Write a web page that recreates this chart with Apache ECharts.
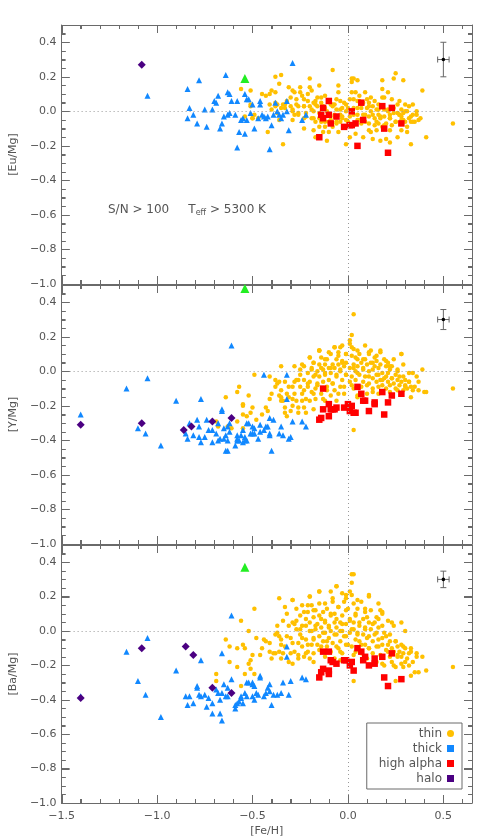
<!DOCTYPE html>
<html>
<head>
<meta charset="utf-8">
<script src="https://cdn.jsdelivr.net/npm/echarts@6.0.0/dist/echarts.min.js"></script>
<style>
  html, body { margin: 0; padding: 0; background: #fff; }
  #chart { width: 491px; height: 838px; }
</style>
</head>
<body>
<div id="chart"></div>
<script>
// ---- [Eu/Mg] panel ----
const thinEu = [[-0.51,0.12],[-0.51,0.04],[-0.50,-0.04],[-0.49,-0.02],[-0.47,-0.04],[-0.45,0.10],[-0.43,0.09],[-0.42,-0.12],[-0.41,0.10],[-0.41,0.04],[-0.40,0.12],[-0.40,0.01],[-0.38,0.11],[-0.38,0.20],[-0.38,0.03],[-0.37,-0.01],[-0.37,0.04],[-0.36,0.16],[-0.36,-0.05],[-0.35,0.21],[-0.34,-0.19],[-0.34,0.04],[-0.33,0.02],[-0.32,0.06],[-0.31,0.14],[-0.30,0.03],[-0.29,0.01],[-0.29,-0.05],[-0.29,0.12],[-0.28,0.11],[-0.28,-0.02],[-0.27,0.04],[-0.26,0.03],[-0.26,-0.01],[-0.25,0.14],[-0.25,0.11],[-0.24,0.09],[-0.23,0.03],[-0.23,0.07],[-0.22,-0.01],[-0.22,-0.03],[-0.21,0.10],[-0.20,0.14],[-0.20,0.03],[-0.20,0.19],[-0.19,0.12],[-0.19,-0.04],[-0.18,0.05],[-0.18,-0.11],[-0.18,0.00],[-0.17,0.06],[-0.17,-0.06],[-0.16,0.08],[-0.16,0.03],[-0.15,-0.04],[-0.15,-0.09],[-0.14,0.05],[-0.14,-0.03],[-0.14,0.08],[-0.13,-0.12],[-0.13,0.03],[-0.12,-0.09],[-0.12,0.09],[-0.12,-0.06],[-0.11,-0.17],[-0.11,0.00],[-0.10,-0.12],[-0.10,-0.02],[-0.09,0.04],[-0.09,-0.05],[-0.08,0.24],[-0.08,0.03],[-0.08,-0.09],[-0.07,-0.03],[-0.07,0.04],[-0.06,0.07],[-0.06,-0.06],[-0.06,0.01],[-0.05,0.11],[-0.05,-0.12],[-0.04,-0.02],[-0.04,0.06],[-0.04,-0.06],[-0.03,0.02],[-0.03,-0.03],[-0.02,0.05],[-0.02,-0.09],[-0.01,0.00],[-0.01,-0.19],[-0.01,-0.05],[0.00,0.02],[0.01,0.07],[0.01,-0.03],[0.02,0.19],[0.02,0.11],[0.02,0.17],[0.03,-0.08],[0.03,0.07],[0.03,0.02],[0.04,0.11],[0.04,-0.13],[0.05,0.18],[0.05,-0.02],[0.05,0.06],[0.06,-0.05],[0.06,0.09],[0.07,0.02],[0.07,-0.07],[0.08,0.05],[0.08,-0.15],[0.08,-0.02],[0.09,0.11],[0.09,-0.06],[0.10,0.07],[0.10,0.02],[0.11,-0.03],[0.11,-0.11],[0.11,0.05],[0.12,0.08],[0.12,0.00],[0.13,-0.16],[0.13,0.03],[0.14,-0.08],[0.14,0.06],[0.14,-0.04],[0.15,-0.11],[0.15,0.01],[0.16,-0.07],[0.16,0.04],[0.16,-0.02],[0.17,-0.04],[0.17,-0.17],[0.18,0.18],[0.18,0.13],[0.18,-0.09],[0.19,0.01],[0.19,-0.03],[0.19,0.08],[0.20,-0.07],[0.20,-0.16],[0.21,0.11],[0.21,0.01],[0.22,-0.02],[0.22,-0.11],[0.22,-0.04],[0.23,0.07],[0.23,-0.08],[0.24,0.19],[0.24,0.02],[0.25,0.22],[0.25,-0.06],[0.26,-0.01],[0.26,-0.15],[0.26,0.04],[0.27,-0.02],[0.27,0.06],[0.28,-0.03],[0.28,0.01],[0.28,-0.11],[0.29,-0.05],[0.29,-0.01],[0.30,0.04],[0.30,-0.06],[0.31,0.00],[0.31,-0.12],[0.32,-0.04],[0.32,0.03],[0.33,-0.19],[0.33,-0.06],[0.34,-0.02],[0.34,0.04],[0.35,-0.06],[0.36,0.00],[0.37,-0.05],[0.39,0.12],[0.41,-0.15],[0.55,-0.07],[-0.56,0.13],[-0.51,0.03],[-0.50,-0.04],[-0.54,-0.03],
  [-0.38,0.05],[-0.35,0.02],[-0.33,0.04],[-0.30,0.08],[-0.29,0.00],[-0.27,0.07],[-0.26,-0.02],[-0.23,0.03],[-0.23,-0.04],[-0.21,0.06],[-0.19,0.01],[-0.18,-0.04],[-0.17,0.04],[-0.15,-0.01],[-0.14,-0.06],[-0.12,0.02],[-0.10,-0.06],[-0.08,0.04],[-0.07,-0.02],[-0.06,-0.07],[-0.04,0.01],[-0.03,-0.04],[-0.01,0.04],[0.00,-0.06],[0.03,-0.02],[0.05,0.02],[0.05,-0.05],[0.06,0.06],[0.09,-0.02],[0.11,-0.07],[0.11,0.03],[0.13,-0.02],[0.15,-0.06],[0.16,0.01],[0.17,-0.03],[0.19,-0.08],[0.21,0.00],[0.22,-0.04],[0.24,-0.01],[0.25,-0.06],[0.27,-0.02],[0.28,-0.05],[0.30,0.00],[0.31,-0.09],[0.33,-0.03],[0.34,-0.06],[0.36,-0.02],[0.38,-0.04],[0.01,-0.15],[0.12,-0.12],[0.22,-0.18],[-0.17,-0.15],[-0.23,-0.10],[0.29,0.18],[0.03,0.19],[0.18,0.08],[-0.05,0.15],[-0.15,0.15]];
const thickEu = [[-1.05,0.09],[-0.84,0.13],[-0.78,0.18],[-0.83,0.02],[-0.84,-0.04],[-0.81,-0.02],[-0.79,-0.07],[-0.75,0.01],[-0.74,-0.09],[-0.71,0.01],[-0.70,0.06],[-0.69,0.05],[-0.68,0.09],[-0.67,-0.10],[-0.66,-0.07],[-0.65,-0.03],[-0.64,0.21],[-0.63,0.11],[-0.62,0.10],[-0.63,-0.02],[-0.62,-0.01],[-0.61,0.06],[-0.59,-0.02],[-0.58,0.06],[-0.58,-0.21],[-0.57,-0.12],[-0.56,-0.05],[-0.55,-0.04],[-0.54,0.10],[-0.54,-0.13],[-0.53,-0.05],[-0.53,0.07],[-0.52,0.07],[-0.50,0.04],[-0.49,-0.10],[-0.51,-0.01],[-0.47,-0.04],[-0.46,0.06],[-0.46,0.04],[-0.45,-0.02],[-0.44,-0.03],[-0.43,-0.04],[-0.42,-0.03],[-0.40,-0.08],[-0.41,-0.22],[-0.39,-0.02],[-0.38,0.05],[-0.37,0.00],[-0.36,-0.02],[-0.35,-0.04],[-0.34,-0.02],[-0.32,0.06],[-0.32,0.00],[-0.31,-0.11],[-0.29,0.28],[-0.24,-0.05],[-0.22,-0.02]];
const alphaEu = [[-0.10,0.06],[-0.13,0.02],[-0.14,-0.02],[-0.13,-0.04],[-0.10,-0.02],[-0.06,-0.03],[-0.09,-0.07],[-0.15,-0.15],[-0.02,-0.09],[0.01,-0.08],[0.02,-0.08],[0.04,-0.07],[0.02,0.00],[0.05,-0.20],[0.07,0.05],[0.08,-0.05],[0.18,0.03],[0.19,-0.10],[0.23,0.02],[0.21,-0.24],[0.28,-0.07]];
const haloEu = [[-1.08,0.27]];
const specialEu = [[-0.54,0.19]];
const errEu = [[0.5, 0.3, 0.03, 0.10]];

// ---- [Y/Mg] panel ----
const thinY = [[0.03,0.33],[0.02,0.21],[0.01,0.18],[0.01,0.16],[-0.35,0.03],[-0.49,-0.02],[-0.58,-0.12],[-0.57,-0.09],[-0.64,-0.15],[-0.52,-0.14],[-0.55,-0.19],[-0.55,-0.20],[-0.55,-0.25],[-0.50,-0.21],[-0.51,-0.24],[-0.53,-0.26],[-0.58,-0.29],[-0.69,-0.29],[-0.68,-0.32],[-0.63,-0.32],[-0.61,-0.33],[-0.55,-0.33],[-0.48,-0.28],[-0.45,-0.25],[-0.43,-0.21],[-0.42,-0.23],[-0.41,-0.03],[-0.41,-0.16],[-0.40,-0.13],[-0.38,-0.09],[-0.38,-0.05],[-0.37,-0.07],[-0.36,-0.06],[-0.35,-0.11],[-0.35,-0.15],[-0.34,-0.17],[-0.33,-0.21],[-0.33,-0.24],[-0.32,-0.26],[-0.32,-0.13],[-0.31,-0.09],[-0.30,-0.23],[-0.29,-0.20],[-0.29,-0.16],[-0.28,-0.13],[-0.28,-0.06],[-0.27,-0.05],[-0.26,-0.21],[-0.26,-0.24],[-0.25,-0.09],[-0.25,-0.02],[-0.24,0.04],[-0.24,-0.17],[-0.24,-0.13],[-0.23,-0.05],[-0.23,-0.21],[-0.22,-0.24],[-0.21,-0.09],[-0.21,-0.01],[-0.20,0.08],[-0.20,-0.17],[-0.20,-0.06],[-0.19,-0.12],[-0.19,0.02],[-0.18,-0.22],[-0.18,-0.03],[-0.18,0.05],[-0.17,-0.10],[-0.17,-0.16],[-0.16,0.00],[-0.16,-0.07],[-0.15,0.12],[-0.15,0.04],[-0.15,-0.03],[-0.14,-0.13],[-0.14,0.08],[-0.13,0.01],[-0.13,-0.06],[-0.12,-0.17],[-0.12,0.04],[-0.12,-0.02],[-0.11,-0.09],[-0.11,0.07],[-0.10,0.02],[-0.10,-0.05],[-0.09,-0.14],[-0.09,0.10],[-0.09,-0.01],[-0.08,0.04],[-0.08,-0.07],[-0.07,0.14],[-0.07,0.02],[-0.07,-0.11],[-0.06,0.07],[-0.06,-0.03],[-0.05,0.04],[-0.05,0.11],[-0.04,-0.09],[-0.04,0.00],[-0.03,0.15],[-0.03,-0.05],[-0.03,0.06],[-0.02,0.03],[-0.02,-0.13],[-0.01,0.10],[-0.01,-0.02],[-0.01,0.05],[0.01,-0.06],[0.01,0.02],[0.02,0.09],[0.02,-0.03],[0.03,0.04],[0.03,-0.10],[0.03,0.13],[0.04,0.00],[0.04,-0.05],[0.05,0.07],[0.05,-0.15],[0.05,0.03],[0.06,0.10],[0.06,-0.02],[0.07,-0.09],[0.07,0.05],[0.08,0.01],[0.08,-0.06],[0.09,0.15],[0.09,0.07],[0.09,-0.03],[0.10,-0.13],[0.10,0.04],[0.11,0.10],[0.11,-0.07],[0.11,0.00],[0.12,0.12],[0.12,0.05],[0.13,-0.04],[0.13,-0.10],[0.14,0.03],[0.14,0.08],[0.15,-0.06],[0.15,-0.02],[0.15,0.06],[0.16,-0.13],[0.16,0.02],[0.17,-0.05],[0.17,0.11],[0.17,0.04],[0.18,-0.08],[0.18,-0.01],[0.19,0.07],[0.19,-0.04],[0.20,-0.10],[0.20,0.03],[0.20,-0.03],[0.21,0.05],[0.21,-0.06],[0.22,0.01],[0.22,-0.12],[0.23,0.03],[0.23,-0.04],[0.24,-0.07],[0.25,-0.02],[0.25,-0.10],[0.26,-0.05],[0.26,0.01],[0.27,-0.08],[0.27,-0.03],[0.28,0.10],[0.28,-0.06],[0.29,-0.11],[0.29,0.04],[0.30,-0.05],[0.30,-0.08],[0.31,-0.10],[0.32,-0.01],[0.32,-0.06],[0.33,-0.09],[0.33,-0.15],[0.34,-0.11],[0.35,-0.09],[0.36,-0.03],[0.37,-0.11],[0.39,0.01],[0.41,-0.12],[0.55,-0.10],[0.03,-0.34],[-0.15,0.12],[-0.04,0.14],
  [-0.15,0.12],[-0.20,0.08],[-0.18,0.05],[-0.12,0.07],[-0.10,0.11],[-0.07,0.14],[-0.05,0.09],[-0.03,0.05],[-0.01,0.10],[0.02,0.14],[0.04,0.08],[0.05,0.12],[0.08,0.07],[0.11,0.11],[0.13,0.05],[0.15,0.09],[0.17,0.12],[0.20,0.06],[0.22,0.03],[0.24,0.07],[0.28,0.10],[-0.28,0.03],[-0.25,0.01],[-0.23,0.03],[-0.19,0.01],[-0.17,-0.02],[-0.14,0.02],[-0.12,-0.01],[-0.09,0.02],[-0.06,-0.02],[-0.04,0.01],[-0.01,-0.02],[0.03,0.02],[0.05,-0.01],[0.08,0.02],[0.11,-0.03],[0.13,0.01],[0.16,-0.02],[0.18,-0.05],[0.21,-0.01],[0.23,-0.04],[0.26,0.00],[0.29,-0.03],[0.32,-0.06],[0.34,-0.01],[0.37,-0.06],[0.40,-0.12],[-0.33,-0.06],[-0.29,-0.09],[-0.26,-0.05],[-0.23,-0.11],[-0.21,-0.07],[-0.18,-0.13],[-0.16,-0.08],[-0.11,-0.11],[-0.08,-0.07],[-0.05,-0.13],[-0.02,-0.09],[0.02,-0.08],[0.05,-0.14],[0.10,-0.08],[0.13,-0.12],[0.16,-0.09],[0.22,-0.08],[0.26,-0.11],[0.30,-0.09],[-0.36,-0.14],[-0.35,-0.17],[-0.31,-0.15],[-0.27,-0.17],[-0.22,-0.16],[-0.13,-0.16],[-0.06,-0.17]];
const thickY = [[-1.40,-0.25],[-1.16,-0.10],[-1.05,-0.04],[-1.10,-0.33],[-1.06,-0.36],[-0.98,-0.43],[-0.90,-0.17],[-0.77,-0.16],[-0.61,0.15],[-0.83,-0.30],[-0.85,-0.36],[-0.84,-0.39],[-0.81,-0.37],[-0.79,-0.28],[-0.78,-0.32],[-0.78,-0.38],[-0.77,-0.41],[-0.75,-0.38],[-0.74,-0.28],[-0.73,-0.34],[-0.71,-0.34],[-0.71,-0.41],[-0.69,-0.36],[-0.68,-0.30],[-0.68,-0.40],[-0.67,-0.39],[-0.66,-0.22],[-0.66,-0.23],[-0.65,-0.39],[-0.65,-0.33],[-0.64,-0.37],[-0.64,-0.46],[-0.63,-0.46],[-0.63,-0.40],[-0.63,-0.32],[-0.62,-0.35],[-0.62,-0.30],[-0.59,-0.43],[-0.58,-0.37],[-0.58,-0.39],[-0.58,-0.40],[-0.57,-0.40],[-0.56,-0.37],[-0.55,-0.41],[-0.54,-0.40],[-0.54,-0.38],[-0.55,-0.34],[-0.53,-0.30],[-0.51,-0.36],[-0.50,-0.36],[-0.50,-0.32],[-0.44,-0.02],[-0.32,-0.02],[-0.32,-0.16],[-0.41,-0.27],[-0.39,-0.28],[-0.46,-0.31],[-0.43,-0.32],[-0.42,-0.32],[-0.49,-0.33],[-0.49,-0.36],[-0.46,-0.35],[-0.44,-0.34],[-0.41,-0.36],[-0.41,-0.37],[-0.47,-0.39],[-0.36,-0.36],[-0.34,-0.37],[-0.35,-0.32],[-0.31,-0.39],[-0.30,-0.38],[-0.40,-0.46],[-0.29,-0.29],[-0.24,-0.29],[-0.22,-0.32],[-0.52,-0.30],[-0.53,-0.40]];
const alphaY = [[-0.13,-0.10],[-0.10,-0.19],[-0.13,-0.22],[-0.15,-0.28],[-0.14,-0.27],[-0.10,-0.26],[-0.09,-0.22],[-0.08,-0.22],[-0.07,-0.22],[-0.06,-0.21],[-0.02,-0.21],[0.00,-0.19],[0.02,-0.20],[0.01,-0.23],[0.03,-0.24],[0.04,-0.24],[0.05,-0.09],[0.07,-0.13],[0.08,-0.17],[0.09,-0.17],[0.11,-0.23],[0.14,-0.18],[0.14,-0.19],[0.18,-0.12],[0.19,-0.25],[0.21,-0.18],[0.23,-0.14],[0.28,-0.13]];
const haloY = [[-1.40,-0.31],[-1.08,-0.30],[-0.86,-0.34],[-0.82,-0.32],[-0.71,-0.29],[-0.61,-0.27]];
const specialY = [[-0.54,0.48]];
const errY = [[0.5, 0.3, 0.03, 0.058]];

// ---- [Ba/Mg] panel ----
const thinBa = [[0.02,0.33],[0.03,0.33],[0.02,0.28],[0.01,0.23],[-0.01,0.21],[-0.06,0.26],[-0.09,0.23],[-0.15,0.23],[-0.20,0.20],[-0.29,0.18],[-0.36,0.19],[-0.49,0.13],[-0.56,0.06],[-0.64,-0.05],[-0.62,-0.09],[-0.58,-0.10],[-0.52,0.00],[-0.48,-0.04],[-0.44,-0.05],[-0.55,-0.08],[-0.54,-0.10],[-0.50,-0.14],[-0.51,-0.17],[-0.62,-0.18],[-0.52,-0.19],[-0.51,-0.22],[-0.58,-0.21],[-0.69,-0.25],[-0.54,-0.25],[-0.49,-0.25],[-0.69,-0.29],[-0.56,-0.32],[-0.45,-0.10],[-0.46,-0.14],[-0.43,-0.06],[-0.41,-0.07],[-0.41,-0.12],[-0.40,-0.16],[-0.39,-0.13],[-0.38,-0.13],[-0.37,0.03],[-0.37,-0.01],[-0.36,-0.03],[-0.35,-0.08],[-0.35,-0.16],[-0.34,-0.13],[-0.33,-0.09],[-0.33,0.14],[-0.32,0.10],[-0.31,-0.18],[-0.30,-0.04],[-0.29,0.05],[-0.29,-0.19],[-0.28,-0.12],[-0.27,0.06],[-0.27,0.01],[-0.26,-0.07],[-0.26,-0.14],[-0.25,0.09],[-0.25,-0.02],[-0.24,0.15],[-0.24,-0.09],[-0.24,0.03],[-0.23,-0.15],[-0.22,-0.05],[-0.22,0.07],[-0.21,0.11],[-0.21,-0.12],[-0.20,0.00],[-0.20,-0.16],[-0.20,0.05],[-0.19,-0.08],[-0.19,0.15],[-0.18,-0.04],[-0.18,0.08],[-0.18,-0.13],[-0.17,0.01],[-0.17,0.12],[-0.16,-0.08],[-0.16,0.04],[-0.15,-0.03],[-0.15,0.16],[-0.15,-0.11],[-0.14,0.07],[-0.14,0.02],[-0.13,-0.06],[-0.13,0.11],[-0.12,-0.15],[-0.12,-0.01],[-0.12,0.05],[-0.11,-0.09],[-0.11,0.13],[-0.10,-0.04],[-0.10,0.03],[-0.09,0.09],[-0.09,-0.12],[-0.09,0.00],[-0.08,0.17],[-0.08,-0.07],[-0.07,0.05],[-0.07,0.10],[-0.07,-0.16],[-0.06,-0.02],[-0.06,0.02],[-0.05,-0.10],[-0.05,0.14],[-0.04,0.05],[-0.04,-0.06],[-0.03,0.00],[-0.03,0.09],[-0.03,-0.13],[-0.02,0.17],[-0.02,-0.03],[-0.01,0.04],[-0.01,-0.08],[-0.01,0.12],[0.01,-0.01],[0.01,0.07],[0.02,-0.09],[0.02,0.01],[0.03,0.16],[0.03,-0.14],[0.03,0.05],[0.04,-0.05],[0.04,0.09],[0.05,-0.01],[0.05,-0.10],[0.05,0.13],[0.06,0.03],[0.06,-0.06],[0.07,0.17],[0.07,-0.13],[0.08,0.07],[0.08,-0.02],[0.09,-0.08],[0.09,0.02],[0.09,0.11],[0.10,-0.16],[0.10,-0.04],[0.11,0.05],[0.11,-0.10],[0.11,0.20],[0.12,0.01],[0.12,0.12],[0.13,-0.06],[0.13,-0.13],[0.14,0.05],[0.14,-0.02],[0.15,-0.09],[0.15,0.08],[0.15,-0.18],[0.16,-0.05],[0.16,0.02],[0.17,-0.14],[0.17,0.12],[0.18,0.10],[0.18,-0.08],[0.19,-0.01],[0.19,-0.20],[0.20,-0.11],[0.20,-0.03],[0.21,-0.08],[0.22,-0.15],[0.22,-0.06],[0.23,-0.10],[0.23,-0.18],[0.24,0.03],[0.24,-0.12],[0.25,-0.06],[0.25,-0.21],[0.26,-0.14],[0.26,-0.09],[0.27,-0.12],[0.28,-0.19],[0.28,-0.15],[0.28,-0.08],[0.29,-0.21],[0.29,-0.13],[0.30,0.00],[0.30,-0.10],[0.31,-0.16],[0.32,-0.13],[0.32,-0.20],[0.33,-0.10],[0.33,-0.26],[0.34,-0.18],[0.35,-0.24],[0.36,-0.13],[0.37,-0.24],[0.39,-0.15],[0.41,-0.23],[0.23,0.05],[0.55,-0.21],[0.03,-0.29],[0.25,-0.29],
  [-0.06,0.26],[-0.03,0.22],[-0.01,0.19],[0.02,0.21],[0.05,0.18],[-0.15,0.23],[-0.20,0.20],[-0.12,0.16],[-0.08,0.19],[-0.05,0.14],[0.00,0.13],[0.04,0.10],[0.09,0.13],[0.11,0.21],[0.16,0.16],[0.18,0.11],[0.21,0.06],[0.28,0.05],[-0.29,0.18],[-0.27,0.13],[-0.23,0.11],[-0.21,0.15],[-0.18,0.12],[-0.15,0.09],[-0.12,0.06],[-0.09,0.10],[-0.06,0.07],[-0.03,0.04],[0.01,0.06],[0.06,0.05],[0.10,0.08],[0.13,0.04],[0.16,0.07],[0.18,0.03],[-0.34,0.06],[-0.31,0.03],[-0.28,0.04],[-0.25,0.01],[-0.22,0.03],[-0.19,0.00],[-0.17,0.03],[-0.13,-0.01],[-0.10,0.02],[-0.07,-0.02],[-0.04,0.00],[-0.01,-0.03],[0.03,0.01],[0.05,-0.02],[0.09,0.01],[0.11,-0.03],[0.15,-0.01],[0.18,-0.04],[0.22,-0.02],[0.25,-0.06],[0.29,-0.09],[0.33,-0.12],[0.36,-0.15],[-0.38,-0.02],[-0.35,-0.05],[-0.32,-0.03],[-0.29,-0.07],[-0.24,-0.04],[-0.21,-0.08],[-0.18,-0.05],[-0.14,-0.09],[-0.11,-0.06],[-0.06,-0.09],[-0.04,-0.12],[0.00,-0.08],[0.04,-0.12],[0.07,-0.08],[0.11,-0.10],[0.16,-0.09],[0.21,-0.12],[0.26,-0.15],[0.30,-0.18],[-0.36,-0.12],[-0.30,-0.13],[-0.26,-0.16],[-0.22,-0.13],[-0.18,-0.18],[-0.04,-0.17],[0.18,-0.19],[0.24,-0.20]];
const thickBa = [[-1.40,-0.38],[-1.16,-0.12],[-1.05,-0.04],[-1.10,-0.29],[-1.06,-0.37],[-0.98,-0.50],[-0.90,-0.23],[-0.77,-0.17],[-0.61,0.09],[-0.66,-0.13],[-0.85,-0.38],[-0.84,-0.43],[-0.83,-0.38],[-0.81,-0.42],[-0.79,-0.32],[-0.79,-0.33],[-0.78,-0.37],[-0.77,-0.38],[-0.75,-0.37],[-0.74,-0.44],[-0.73,-0.39],[-0.71,-0.48],[-0.71,-0.42],[-0.69,-0.34],[-0.68,-0.36],[-0.67,-0.48],[-0.67,-0.40],[-0.66,-0.36],[-0.66,-0.52],[-0.65,-0.31],[-0.64,-0.38],[-0.63,-0.38],[-0.63,-0.33],[-0.61,-0.28],[-0.59,-0.45],[-0.59,-0.43],[-0.58,-0.42],[-0.57,-0.41],[-0.56,-0.38],[-0.56,-0.39],[-0.55,-0.42],[-0.54,-0.36],[-0.53,-0.38],[-0.53,-0.30],[-0.50,-0.31],[-0.50,-0.38],[-0.49,-0.32],[-0.32,-0.09],[-0.32,-0.15],[-0.46,-0.26],[-0.46,-0.27],[-0.41,-0.31],[-0.42,-0.33],[-0.50,-0.30],[-0.52,-0.30],[-0.48,-0.36],[-0.47,-0.37],[-0.44,-0.38],[-0.43,-0.36],[-0.41,-0.35],[-0.49,-0.40],[-0.40,-0.43],[-0.39,-0.37],[-0.37,-0.37],[-0.35,-0.36],[-0.34,-0.30],[-0.31,-0.37],[-0.30,-0.29],[-0.24,-0.27],[-0.22,-0.28]];
const alphaBa = [[-0.13,-0.12],[-0.10,-0.12],[-0.09,-0.17],[-0.08,-0.18],[-0.06,-0.19],[-0.13,-0.22],[-0.14,-0.24],[-0.15,-0.27],[-0.10,-0.23],[-0.10,-0.25],[-0.02,-0.17],[-0.01,-0.17],[0.01,-0.20],[0.02,-0.18],[0.03,-0.23],[0.05,-0.10],[0.07,-0.12],[0.08,-0.17],[0.09,-0.15],[0.11,-0.20],[0.14,-0.16],[0.14,-0.19],[0.18,-0.15],[0.19,-0.27],[0.21,-0.32],[0.23,-0.13],[0.28,-0.28]];
const haloBa = [[-1.40,-0.39],[-1.08,-0.10],[-0.85,-0.09],[-0.81,-0.14],[-0.71,-0.33],[-0.61,-0.36]];
const specialBa = [[-0.54,0.37]];
const errBa = [[0.5, 0.3, 0.03, 0.048]];

// tick positions (IDL style: inward ticks on all four sides)
const xMajorTicks = [-1.5, -1.0, -0.5, 0.0, 0.5];
const xMinorTicks = [-1.4, -1.3, -1.2, -1.1, -0.9, -0.8, -0.7, -0.6, -0.4, -0.3, -0.2, -0.1, 0.1, 0.2, 0.3, 0.4, 0.6];
const yMajorTicks = [-1.0, -0.8, -0.6, -0.4, -0.2, 0.0, 0.2, 0.4];
const yMinorTicks = [-0.95, -0.9, -0.85, -0.75, -0.7, -0.65, -0.55, -0.5, -0.45, -0.35, -0.3, -0.25, -0.15, -0.1, -0.05, 0.05, 0.1, 0.15, 0.25, 0.3, 0.35, 0.45];

const yNames = ['[Eu/Mg]', '[Y/Mg]', '[Ba/Mg]'];

const panels = [
  { thin: thinEu, thick: thickEu, alpha: alphaEu, halo: haloEu, special: specialEu, err: errEu },
  { thin: thinY, thick: thickY, alpha: alphaY, halo: haloY, special: specialY, err: errY },
  { thin: thinBa, thick: thickBa, alpha: alphaBa, halo: haloBa, special: specialBa, err: errBa },
];

const AXIS = '#6a6a6a';
const TXT = '#555';
const FONT = 'DejaVu Sans';
const gridTops = [25, 285, 545];
const gridH = 259;
const tickStyle = { color: AXIS, width: 1 };

// rows: [dimension (0 = x, 1 = y), value, tick length]
const tickRows = [].concat(
  xMajorTicks.map((v) => [0, v, 8]),
  xMinorTicks.map((v) => [0, v, 4]),
  yMajorTicks.map((v) => [1, v, 8]),
  yMinorTicks.map((v) => [1, v, 4])
);

function fmt(v) {
  return v.toFixed(1).replace('-', '\u2212');
}

function mkX(i, pos) {
  const labelled = pos === 'bottom' && i === 2;
  const a = {
    gridIndex: i, type: 'value', position: pos, min: -1.5, max: 0.65, interval: 0.5,
    axisLine: { show: true, onZero: false, lineStyle: tickStyle },
    axisTick: { show: true, inside: true, length: 8, lineStyle: tickStyle },
    minorTick: { show: true, splitNumber: 5, length: 4, lineStyle: tickStyle },
    splitLine: { show: false },
    axisLabel: { show: labelled, showMaxLabel: false, formatter: fmt, color: TXT, fontFamily: FONT, fontSize: 11, margin: 8 },
  };
  if (labelled) {
    Object.assign(a, {
      name: '[Fe/H]', nameLocation: 'middle', nameGap: 23,
      nameTextStyle: { color: TXT, fontFamily: FONT, fontSize: 11 },
    });
  }
  return a;
}

function mkY(i, pos) {
  const labelled = pos === 'left';
  const a = {
    gridIndex: i, type: 'value', position: pos, min: -1, max: 0.5, interval: 0.2,
    axisLine: { show: true, onZero: false, lineStyle: tickStyle },
    axisTick: { show: true, inside: true, length: 8, lineStyle: tickStyle },
    minorTick: { show: true, splitNumber: 4, length: 4, lineStyle: tickStyle },
    splitLine: { show: false },
    axisLabel: { show: labelled, showMaxLabel: false, formatter: fmt, color: TXT, fontFamily: FONT, fontSize: 11, margin: 5 },
  };
  if (labelled) {
    Object.assign(a, {
      name: yNames[i], nameLocation: 'middle', nameGap: 31, nameRotate: 90,
      nameTextStyle: { color: TXT, fontFamily: FONT, fontSize: 11 },
    });
  }
  return a;
}

// inward ticks placed through the axis scale
function renderTick(params, api) {
  const cs = params.coordSys;
  const dim = api.value(0), v = api.value(1), len = api.value(2);
  const st = { stroke: AXIS, lineWidth: 1 };
  if (dim === 0) {
    const px = Math.round(api.coord([v, 0])[0]) + 0.5;
    const yb = cs.y + cs.height, yt = cs.y;
    return {
      type: 'group',
      children: [
        { type: 'line', shape: { x1: px, y1: yb, x2: px, y2: yb - len }, style: st },
        { type: 'line', shape: { x1: px, y1: yt, x2: px, y2: yt + len }, style: st },
      ],
    };
  }
  const py = Math.round(api.coord([0, v])[1]) + 0.5;
  const xl = cs.x, xr = cs.x + cs.width;
  return {
    type: 'group',
    children: [
      { type: 'line', shape: { x1: xl, y1: py, x2: xl + len, y2: py }, style: st },
      { type: 'line', shape: { x1: xr, y1: py, x2: xr - len, y2: py }, style: st },
    ],
  };
}

// error cross drawn through the axis scales
function renderErr(params, api) {
  const x = api.value(0), y = api.value(1), dx = api.value(2), dy = api.value(3);
  const c = api.coord([x, y]);
  const l = api.coord([x - dx, y]), r = api.coord([x + dx, y]);
  const t = api.coord([x, y + dy]), b = api.coord([x, y - dy]);
  const st = { stroke: '#666', lineWidth: 1 };
  const cap = 3;
  return {
    type: 'group',
    children: [
      { type: 'line', shape: { x1: l[0], y1: l[1], x2: r[0], y2: r[1] }, style: st },
      { type: 'line', shape: { x1: t[0], y1: t[1], x2: b[0], y2: b[1] }, style: st },
      { type: 'line', shape: { x1: l[0], y1: l[1] - cap, x2: l[0], y2: l[1] + cap }, style: st },
      { type: 'line', shape: { x1: r[0], y1: r[1] - cap, x2: r[0], y2: r[1] + cap }, style: st },
      { type: 'line', shape: { x1: t[0] - cap, y1: t[1], x2: t[0] + cap, y2: t[1] }, style: st },
      { type: 'line', shape: { x1: b[0] - cap, y1: b[1], x2: b[0] + cap, y2: b[1] }, style: st },
      { type: 'circle', shape: { cx: c[0], cy: c[1], r: 1.8 }, style: { fill: '#000' } },
    ],
  };
}

const grid = [], xAxis = [], yAxis = [], series = [];

panels.forEach((p, i) => {
  grid.push({ left: 49, right: 19, top: gridTops[i], height: gridH });
  xAxis.push(mkX(i, 'bottom'), mkX(i, 'top'));
  yAxis.push(mkY(i, 'left'), mkY(i, 'right'));

  const ax = { xAxisIndex: 2 * i, yAxisIndex: 2 * i };
  series.push({
    name: 'thin', type: 'scatter', ...ax, data: p.thin,
    symbol: 'circle', symbolSize: 4.5, itemStyle: { color: '#FFC000', opacity: 1 },
    markLine: {
      silent: true, symbol: 'none', label: { show: false },
      lineStyle: { color: '#999', type: [1, 3], width: 1 },
      data: [{ yAxis: 0 }, { xAxis: 0 }],
    },
  });
  series.push({
    name: 'thick', type: 'scatter', ...ax, data: p.thick,
    symbol: 'triangle', symbolSize: 6, itemStyle: { color: '#1188FF', opacity: 1 },
  });
  series.push({
    name: 'high alpha', type: 'scatter', ...ax, data: p.alpha,
    symbol: 'rect', symbolSize: 6.5, itemStyle: { color: '#FF0000', opacity: 1 },
  });
  series.push({
    name: 'halo', type: 'scatter', ...ax, data: p.halo,
    symbol: 'diamond', symbolSize: 8, itemStyle: { color: '#4B0082', opacity: 1 },
  });
  series.push({
    name: 'special', type: 'scatter', ...ax, data: p.special,
    symbol: 'triangle', symbolSize: 9, itemStyle: { color: '#22EE22', opacity: 1 },
  });
  series.push({
    name: 'err', type: 'custom', ...ax, data: p.err, renderItem: renderErr,
  });
  series.push({
    name: 'ticks', type: 'custom', ...ax, data: tickRows, renderItem: renderTick,
    silent: true, z: 5,
  });
});

const chart = echarts.init(document.getElementById('chart'));
chart.setOption({
  animation: false,
  backgroundColor: '#fff',
  grid, xAxis, yAxis, series,
  legend: {
    orient: 'vertical', right: 29, top: 723, align: 'right',
    selectedMode: false,
    data: [
      { name: 'thin', icon: 'circle' },
      { name: 'thick', icon: 'rect' },
      { name: 'high alpha', icon: 'rect' },
      { name: 'halo', icon: 'rect' },
    ],
    itemWidth: 7, itemHeight: 7, itemGap: 2,
    padding: [4, 8, 4, 12],
    borderColor: AXIS, borderWidth: 1, borderRadius: 0,
    backgroundColor: '#fff',
    textStyle: { color: TXT, fontFamily: FONT, fontSize: 12, lineHeight: 13 },
  },
  graphic: [{
    type: 'text', left: 108, top: 204,
    style: {
      text: '{a|S/N > 100     T}{s|eff}{a| > 5300 K}',
      rich: {
        a: { fontFamily: FONT, fontSize: 12, fill: TXT },
        s: { fontFamily: FONT, fontSize: 8, fill: TXT, padding: [6, 0, 0, 0] },
      },
    },
  }],
});
</script>
</body>
</html>
